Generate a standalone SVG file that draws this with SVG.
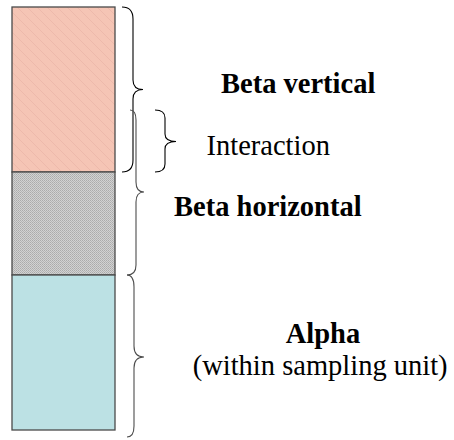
<svg xmlns="http://www.w3.org/2000/svg" width="454" height="440" viewBox="0 0 454 440">
  <defs>
    <!-- fine diagonal texture for the upper block -->
    <pattern id="pinkTex" width="10" height="10" patternUnits="userSpaceOnUse">
      <rect width="10" height="10" fill="#F5C5B5"/>
      <path d="M0,0 L10,10 M-5,5 L5,15 M5,-5 L15,5" stroke="#EDB9AB" stroke-width="1"/>
    </pattern>
    <!-- stippled grey texture for the middle block -->
    <pattern id="greyTex" width="2" height="2" patternUnits="userSpaceOnUse">
      <rect width="2" height="2" fill="#D2D2D2"/>
      <rect width="1" height="1" fill="#ABABAB"/>
      <rect x="1" y="1" width="1" height="1" fill="#B5B5B5"/>
    </pattern>
    <style>
      .block { stroke: #4a4a4a; stroke-width: 1.3; }
      .brace { fill: none; stroke-width: 1.1; }
      .dark { stroke: #000; }
      .grey { stroke: #4d4d4d; }
      .lbl { font-family: "Liberation Serif", "Times New Roman", serif; font-size: 28.5px; fill: #000; }
      .bold { font-weight: bold; }
    </style>
  </defs>

  <rect width="454" height="440" fill="#fff"/>

  <!-- stacked column -->
  <g id="column">
    <rect id="block-beta-vertical" class="block" x="12" y="7" width="103" height="165" fill="url(#pinkTex)"/>
    <rect id="block-beta-horizontal" class="block" x="12" y="172" width="103" height="103" fill="url(#greyTex)"/>
    <rect id="block-alpha" class="block" x="12" y="275" width="103" height="155" fill="#BCE1E4"/>
  </g>

  <!-- braces -->
  <g id="connectors">
    <path id="brace-beta-vertical" class="brace dark" d="M122,7 Q133,7 133,19 L133,80 Q133,89.5 143,89.5 Q133,89.5 133,99 L133,160 Q133,172 122,172"/>
    <path id="brace-interaction" class="brace dark" d="M155,110 Q165,110 165,118 L165,134 Q165,141.5 176,141.5 Q165,141.5 165,149 L165,164 Q165,172 155,172"/>
    <path id="brace-beta-horizontal" class="brace grey" d="M130,110 Q136,110 136,120 L136,182 Q136,192 144,192 Q136,192 136,202 L136,265 Q136,275 127,275"/>
    <path id="brace-alpha" class="brace grey" d="M127,275 Q134,275 134,287 L134,346 Q134,357 144,357 Q134,357 134,368 L134,426 Q134,437 127,437"/>
  </g>

  <g id="label-beta-vertical">
    <text class="lbl bold" x="221" y="92.5">Beta vertical</text>
  </g>
  <g id="label-interaction">
    <text class="lbl" x="206.5" y="155">Interaction</text>
  </g>
  <g id="label-beta-horizontal">
    <text class="lbl bold" x="174" y="216">Beta horizontal</text>
  </g>
  <g id="label-alpha">
    <text class="lbl bold" x="285.7" y="343">Alpha</text>
    <text class="lbl" x="192.7" y="375">(within sampling unit)</text>
  </g>
</svg>
